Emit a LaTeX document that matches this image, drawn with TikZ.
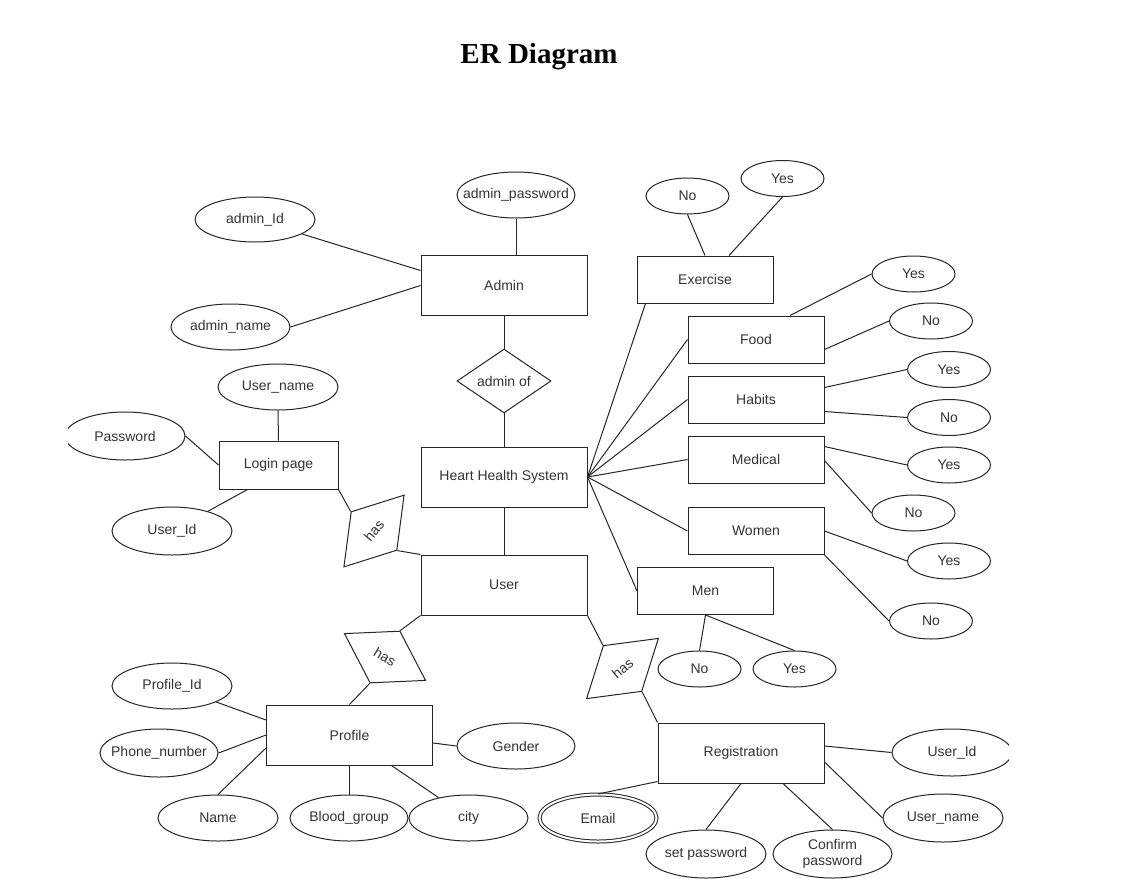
\documentclass[tikz,border=0pt]{standalone}
\usepackage{fontspec}
\setmainfont{Liberation Sans}
\newfontfamily\titlefont{Liberation Serif}
\usetikzlibrary{shapes.geometric,calc}
\begin{document}
\begin{tikzpicture}[x=1pt,y=-1pt,
  every node/.style={font=\fontsize{14}{16}\selectfont, text=black!80},
  ent/.style={draw=black!85, line width=1pt, rectangle, minimum width=166pt, minimum height=60pt, inner sep=0pt},
  entsmall/.style={ent, minimum width=136pt, minimum height=47pt},
  attr/.style={draw=black!85, line width=1pt, ellipse, minimum width=120pt, minimum height=46pt, inner xsep=-18pt, inner ysep=-4pt},
  sattr/.style={attr, minimum width=83pt, minimum height=36pt},
  rel/.style={draw=black!85, line width=1pt, diamond, minimum width=94pt, minimum height=60pt, inner sep=0pt},
  conn/.style={draw=black!85, line width=1pt}]
\useasboundingbox (0,0) rectangle (1134,878);
\clip (68,0) rectangle (1009,878);

% title
\node[font=\titlefont\bfseries\fontsize{29}{32}\selectfont, text=black] (title) at (539,57) {ER Diagram};

% entities
\node[ent] (admin) at (504,285.5) {Admin};
\node[ent] (hhs) at (504,477) {Heart Health System};
\node[ent] (user) at (504,585) {User};
\node[ent, minimum width=119pt, minimum height=48pt] (login) at (278.5,465) {Login page};
\node[ent] (profile) at (349.5,735) {Profile};
\node[ent] (reg) at (741,753) {Registration};
\node[entsmall] (exercise) at (705,279.5) {Exercise};
\node[entsmall] (food) at (756,339.5) {Food};
\node[entsmall] (habits) at (756,399.5) {Habits};
\node[entsmall] (medical) at (756,459.5) {Medical};
\node[entsmall] (women) at (756,531) {Women};
\node[entsmall] (men) at (705.5,591) {Men};

% relationships
\node[rel] (adminof) at (504,381) {admin of};
\node[rel, rotate=50] (hasA) at (374,531) {has};
\node[rel, rotate=-30] (hasB) at (385,657) {has};
\node[rel, rotate=40] (hasC) at (622.5,668.5) {has};

% attributes
\node[attr, minimum height=45pt] (adminId) at (255,219.5) {admin\_Id};
\node[attr, minimum width=118pt] (adminPw) at (516,195) {admin\_password};
\node[attr, minimum width=119pt] (adminName) at (230.5,327) {admin\_name};
\node[sattr] (exNo) at (687.5,196) {No};
\node[sattr] (exYes) at (782.5,178.5) {Yes};
\node[sattr] (foodYes) at (913.5,274) {Yes};
\node[sattr] (foodNo) at (931,321) {No};
\node[sattr] (habYes) at (949,369.5) {Yes};
\node[sattr] (habNo) at (949,417.5) {No};
\node[sattr] (medYes) at (949,465) {Yes};
\node[sattr] (medNo) at (913.5,513) {No};
\node[sattr] (womYes) at (949,561) {Yes};
\node[sattr] (womNo) at (931,621) {No};
\node[sattr] (menNo) at (699.5,669) {No};
\node[sattr] (menYes) at (794.5,669) {Yes};
\node[attr] (loginName) at (278,387) {User\_name};
\node[attr, minimum height=48pt] (loginPw) at (125,436) {Password};
\node[attr, minimum height=48pt] (loginId) at (172,531) {User\_Id};
\node[attr] (profId) at (172,686) {Profile\_Id};
\node[attr, minimum width=118pt, minimum height=48pt] (phone) at (159,753) {Phone\_number};
\node[attr] (pname) at (218,818) {Name};
\node[attr, minimum width=118pt] (blood) at (349,818) {Blood\_group};
\node[attr, minimum width=119pt] (city) at (468.5,818) {city};
\node[attr, minimum width=118pt] (gender) at (516,746) {Gender};
\node[attr, double, double distance=2pt, minimum width=117pt, minimum height=47pt] (email) at (598,818) {Email};
\node[attr, minimum height=48pt] (setpw) at (706,854) {set password};
\node[attr, minimum width=119pt, minimum height=48pt, align=center, font=\fontsize{14}{15.5}\selectfont] (confpw) at (832.5,854) {Confirm\\password};
\node[attr, minimum height=47pt] (regId) at (952,752.5) {User\_Id};
\node[attr, minimum height=48pt] (regName) at (943,818) {User\_name};

% admin connectors
\draw[conn] (adminId) -- ([yshift=15pt]admin.west);
\draw[conn] (adminName.east) -- (admin.west);
\draw[conn] (adminPw.south) -- (adminPw.south |- admin.north);
\draw[conn] (admin.south) -- (adminof.north);
\draw[conn] (adminof.south) -- (hhs.north);
\draw[conn] (hhs.south) -- (user.north);

% fan from system
\draw[conn] (hhs.east) -- ([xshift=9pt]exercise.south west);
\draw[conn] (hhs.east) -- (food.west);
\draw[conn] (hhs.east) -- (habits.west);
\draw[conn] (hhs.east) -- (medical.west);
\draw[conn] (hhs.east) -- (women.west);
\draw[conn] (hhs.east) -- (men.west);

% categories
\draw[conn] (exNo.south) -- (exercise.north);
\draw[conn] (exYes.south) -- ([xshift=24pt]exercise.north);
\draw[conn] ([xshift=34pt]food.north) -- (foodYes.west);
\draw[conn] ([yshift=-10pt]food.east) -- (foodNo.west);
\draw[conn] ([yshift=12pt]habits.east) -- (habYes.west);
\draw[conn] ([yshift=-12pt]habits.east) -- (habNo.west);
\draw[conn] ([yshift=13pt]medical.east) -- (medYes.west);
\draw[conn] ([yshift=-1pt]medical.east) -- (medNo.west);
\draw[conn] (women.east) -- (womYes.west);
\draw[conn] (women.south east) -- (womNo.west);
\draw[conn] (men.south) -- (menNo.north);
\draw[conn] (men.south) -- (menYes.north);

% login
\draw[conn] (loginName.south) -- (login.north);
\draw[conn] (loginPw.east) -- (login.west);
\draw[conn] (loginId) -- ([xshift=29pt]login.south west);
\draw[conn] (login.south east) -- (hasA.north);
\draw[conn] (hasA.south) -- (user.north west);

% profile
\draw[conn] (user.south west) -- (hasB.north);
\draw[conn] (hasB.south) -- (profile.north);
\draw[conn] (profId) -- ([yshift=15pt]profile.west);
\draw[conn] (phone.east) -- (profile.west);
\draw[conn] (pname.north) -- ([yshift=-13pt]profile.west);
\draw[conn] (blood.north) -- (blood.north |- profile.south);
\draw[conn] (city) -- ([xshift=42pt]profile.south);
\draw[conn] ([yshift=-8pt]profile.east) -- (gender.west);

% registration
\draw[conn] (user.south east) -- (hasC.north);
\draw[conn] (hasC.south) -- (reg.north west);
\draw[conn] (email.north) -- ([yshift=2pt]reg.south west);
\draw[conn] (setpw.north) -- (reg.south);
\draw[conn] (confpw.north) -- ([xshift=42pt]reg.south);
\draw[conn] ([yshift=7pt]reg.east) -- (regId.west);
\draw[conn] ([yshift=-9pt]reg.east) -- (regName.west);
\end{tikzpicture}
\end{document}
